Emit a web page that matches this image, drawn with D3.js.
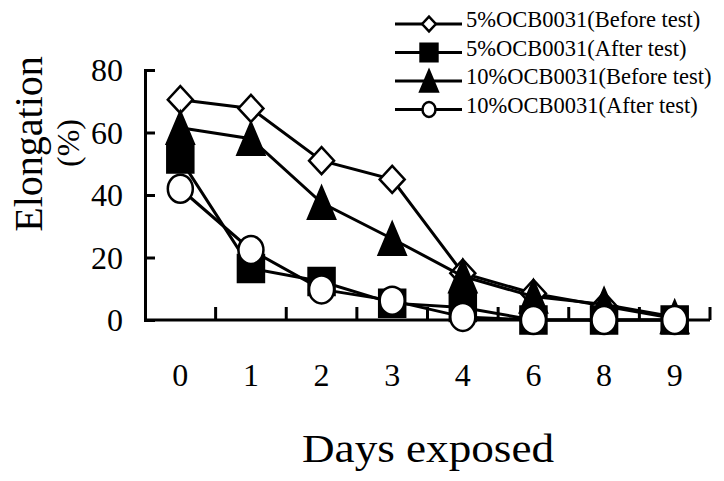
<!DOCTYPE html>
<html>
<head>
<meta charset="utf-8">
<script src="https://cdn.jsdelivr.net/npm/d3@7"></script>
</head>
<body style="margin:0; background:#fff">
<div id="chart"></div>
<script>
// data
const days = ["0", "1", "2", "3", "4", "6", "8", "9"];
const before5 = [70.5, 67.7, 51, 45, 15, 8.5, 4.5, 0.5];
const after5 = [51.5, 16.5, 12.3, 5.4, 4, 0, 0, 0];
const before10 = [61.5, 58, 37.5, 26, 14, 7.5, 5, 1];
const after10 = [42, 22.4, 9.8, 6.2, 1, 0, 0, 0];
const seriesNames = ["5%OCB0031(Before test)", "5%OCB0031(After test)",
                     "10%OCB0031(Before test)", "10%OCB0031(After test)"];
const yTicks = [0, 20, 40, 60, 80];

const width = 724, height = 481;
const serif = '"Liberation Serif"';

const svg = d3.select("#chart")
    .append("svg")
    .attr("width", width)
    .attr("height", height);

// scales
const x = d3.scaleBand().domain(days).range([145, 710]);
const cx = d => x(d) + x.bandwidth() / 2;
const y = d3.scaleLinear().domain([0, 80]).range([320, 70]);

// marker shapes (big in plot, small in legend)
function markerPath(kind, px, py, s) {
  if (kind === "diamond") {
    const w = 12.5 * s, h = 13.5 * s;
    return `M${px},${py - h}L${px + w},${py}L${px},${py + h}L${px - w},${py}Z`;
  }
  if (kind === "square") {
    const w = 13 * s, h = 13.5 * s;
    return `M${px - w},${py - h}H${px + w}V${py + h}H${px - w}Z`;
  }
  // triangle
  const w = 13.5 * s, h = 16 * s;
  return `M${px},${py - h}L${px + w},${py + h}L${px - w},${py + h}Z`;
}

const series = [
  { name: seriesNames[0], values: before5, kind: "diamond", fill: "#fff" },
  { name: seriesNames[1], values: after5, kind: "square", fill: "#000" },
  { name: seriesNames[2], values: before10, kind: "triangle", fill: "#000" },
  { name: seriesNames[3], values: after10, kind: "circle", fill: "#fff" }
];

// Y axis
svg.append("g")
    .attr("transform", "translate(145,0)")
    .call(d3.axisLeft(y).tickValues(yTicks).tickSize(-10).tickPadding(22))
    .call(g => g.selectAll("path, line").attr("stroke", "#000").attr("stroke-width", 3))
    .call(g => g.selectAll("text").style("font-size", "32px").attr("dy", "0.34em"));

// X axis: domain line, ticks on the band edges, labels at band centres
const xAxis = svg.append("g").attr("transform", "translate(0,320)");
xAxis.append("line")
    .attr("x1", 145).attr("x2", x.range()[1])
    .attr("stroke", "#000").attr("stroke-width", 3);
xAxis.selectAll(".edge")
    .data(days)
    .join("line")
    .attr("class", "edge")
    .attr("x1", d => x(d) + x.step()).attr("x2", d => x(d) + x.step())
    .attr("y1", 0).attr("y2", -13)
    .attr("stroke", "#000").attr("stroke-width", 3);
xAxis.selectAll(".lab")
    .data(days)
    .join("text")
    .attr("class", "lab")
    .attr("x", cx)
    .attr("y", 66)
    .attr("text-anchor", "middle")
    .style("font-size", "32px")
    .text(d => d);

// axis titles
svg.append("text")
    .attr("transform", "translate(42,144) rotate(-90)")
    .attr("text-anchor", "middle")
    .style("font-size", "40px")
    .text("Elongation");
svg.append("text")
    .attr("transform", "translate(79,143) rotate(-90)")
    .attr("text-anchor", "middle")
    .style("font-size", "32px")
    .text("(%)");
svg.append("text")
    .attr("x", 302)
    .attr("y", 462)
    .attr("textLength", 252)
    .attr("lengthAdjust", "spacingAndGlyphs")
    .style("font-size", "40px")
    .text("Days exposed");

// series: line then markers, one series after another
const line = d3.line().x((d, i) => cx(days[i])).y(d => y(d));
series.forEach(s => {
  const g = svg.append("g");
  g.append("path")
      .datum(s.values)
      .attr("d", line)
      .attr("fill", "none")
      .attr("stroke", "#000")
      .attr("stroke-width", 3);
  if (s.kind === "circle") {
    g.selectAll("ellipse")
        .data(s.values)
        .join("ellipse")
        .attr("cx", (d, i) => cx(days[i]))
        .attr("cy", d => y(d))
        .attr("rx", 12.5).attr("ry", 14)
        .attr("fill", s.fill).attr("stroke", "#000").attr("stroke-width", 2.5);
  } else {
    g.selectAll("path.mk")
        .data(s.values)
        .join("path")
        .attr("class", "mk")
        .attr("d", (d, i) => markerPath(s.kind, cx(days[i]), y(d), 1))
        .attr("fill", s.fill).attr("stroke", "#000").attr("stroke-width", 2.5);
  }
});

// legend
const legend = svg.append("g");
const entry = legend.selectAll("g")
    .data(series)
    .join("g")
    .attr("transform", (d, i) => `translate(0,${24 + i * 28.5})`);
entry.append("line")
    .attr("x1", 395).attr("x2", 462)
    .attr("stroke", "#000").attr("stroke-width", 3);
entry.each(function(s) {
  const e = d3.select(this);
  if (s.kind === "circle") {
    e.append("ellipse").attr("cx", 429).attr("cy", 0).attr("rx", 6.5).attr("ry", 7.5)
        .attr("fill", s.fill).attr("stroke", "#000").attr("stroke-width", 2.5);
  } else {
    const sc = s.kind === "diamond" ? 0.55 : 0.65;
    e.append("path").attr("d", markerPath(s.kind, 429, 0, sc))
        .attr("fill", s.fill).attr("stroke", "#000").attr("stroke-width", 2.5);
  }
});
const legText = entry.append("text")
    .attr("x", 466)
    .attr("y", 3)
    .style("font-size", "22.5px")
    .text(d => d.name);

// serif font on every text, set inline
svg.selectAll("text").style("font-family", serif).style("fill", "#000");
</script>
</body>
</html>
